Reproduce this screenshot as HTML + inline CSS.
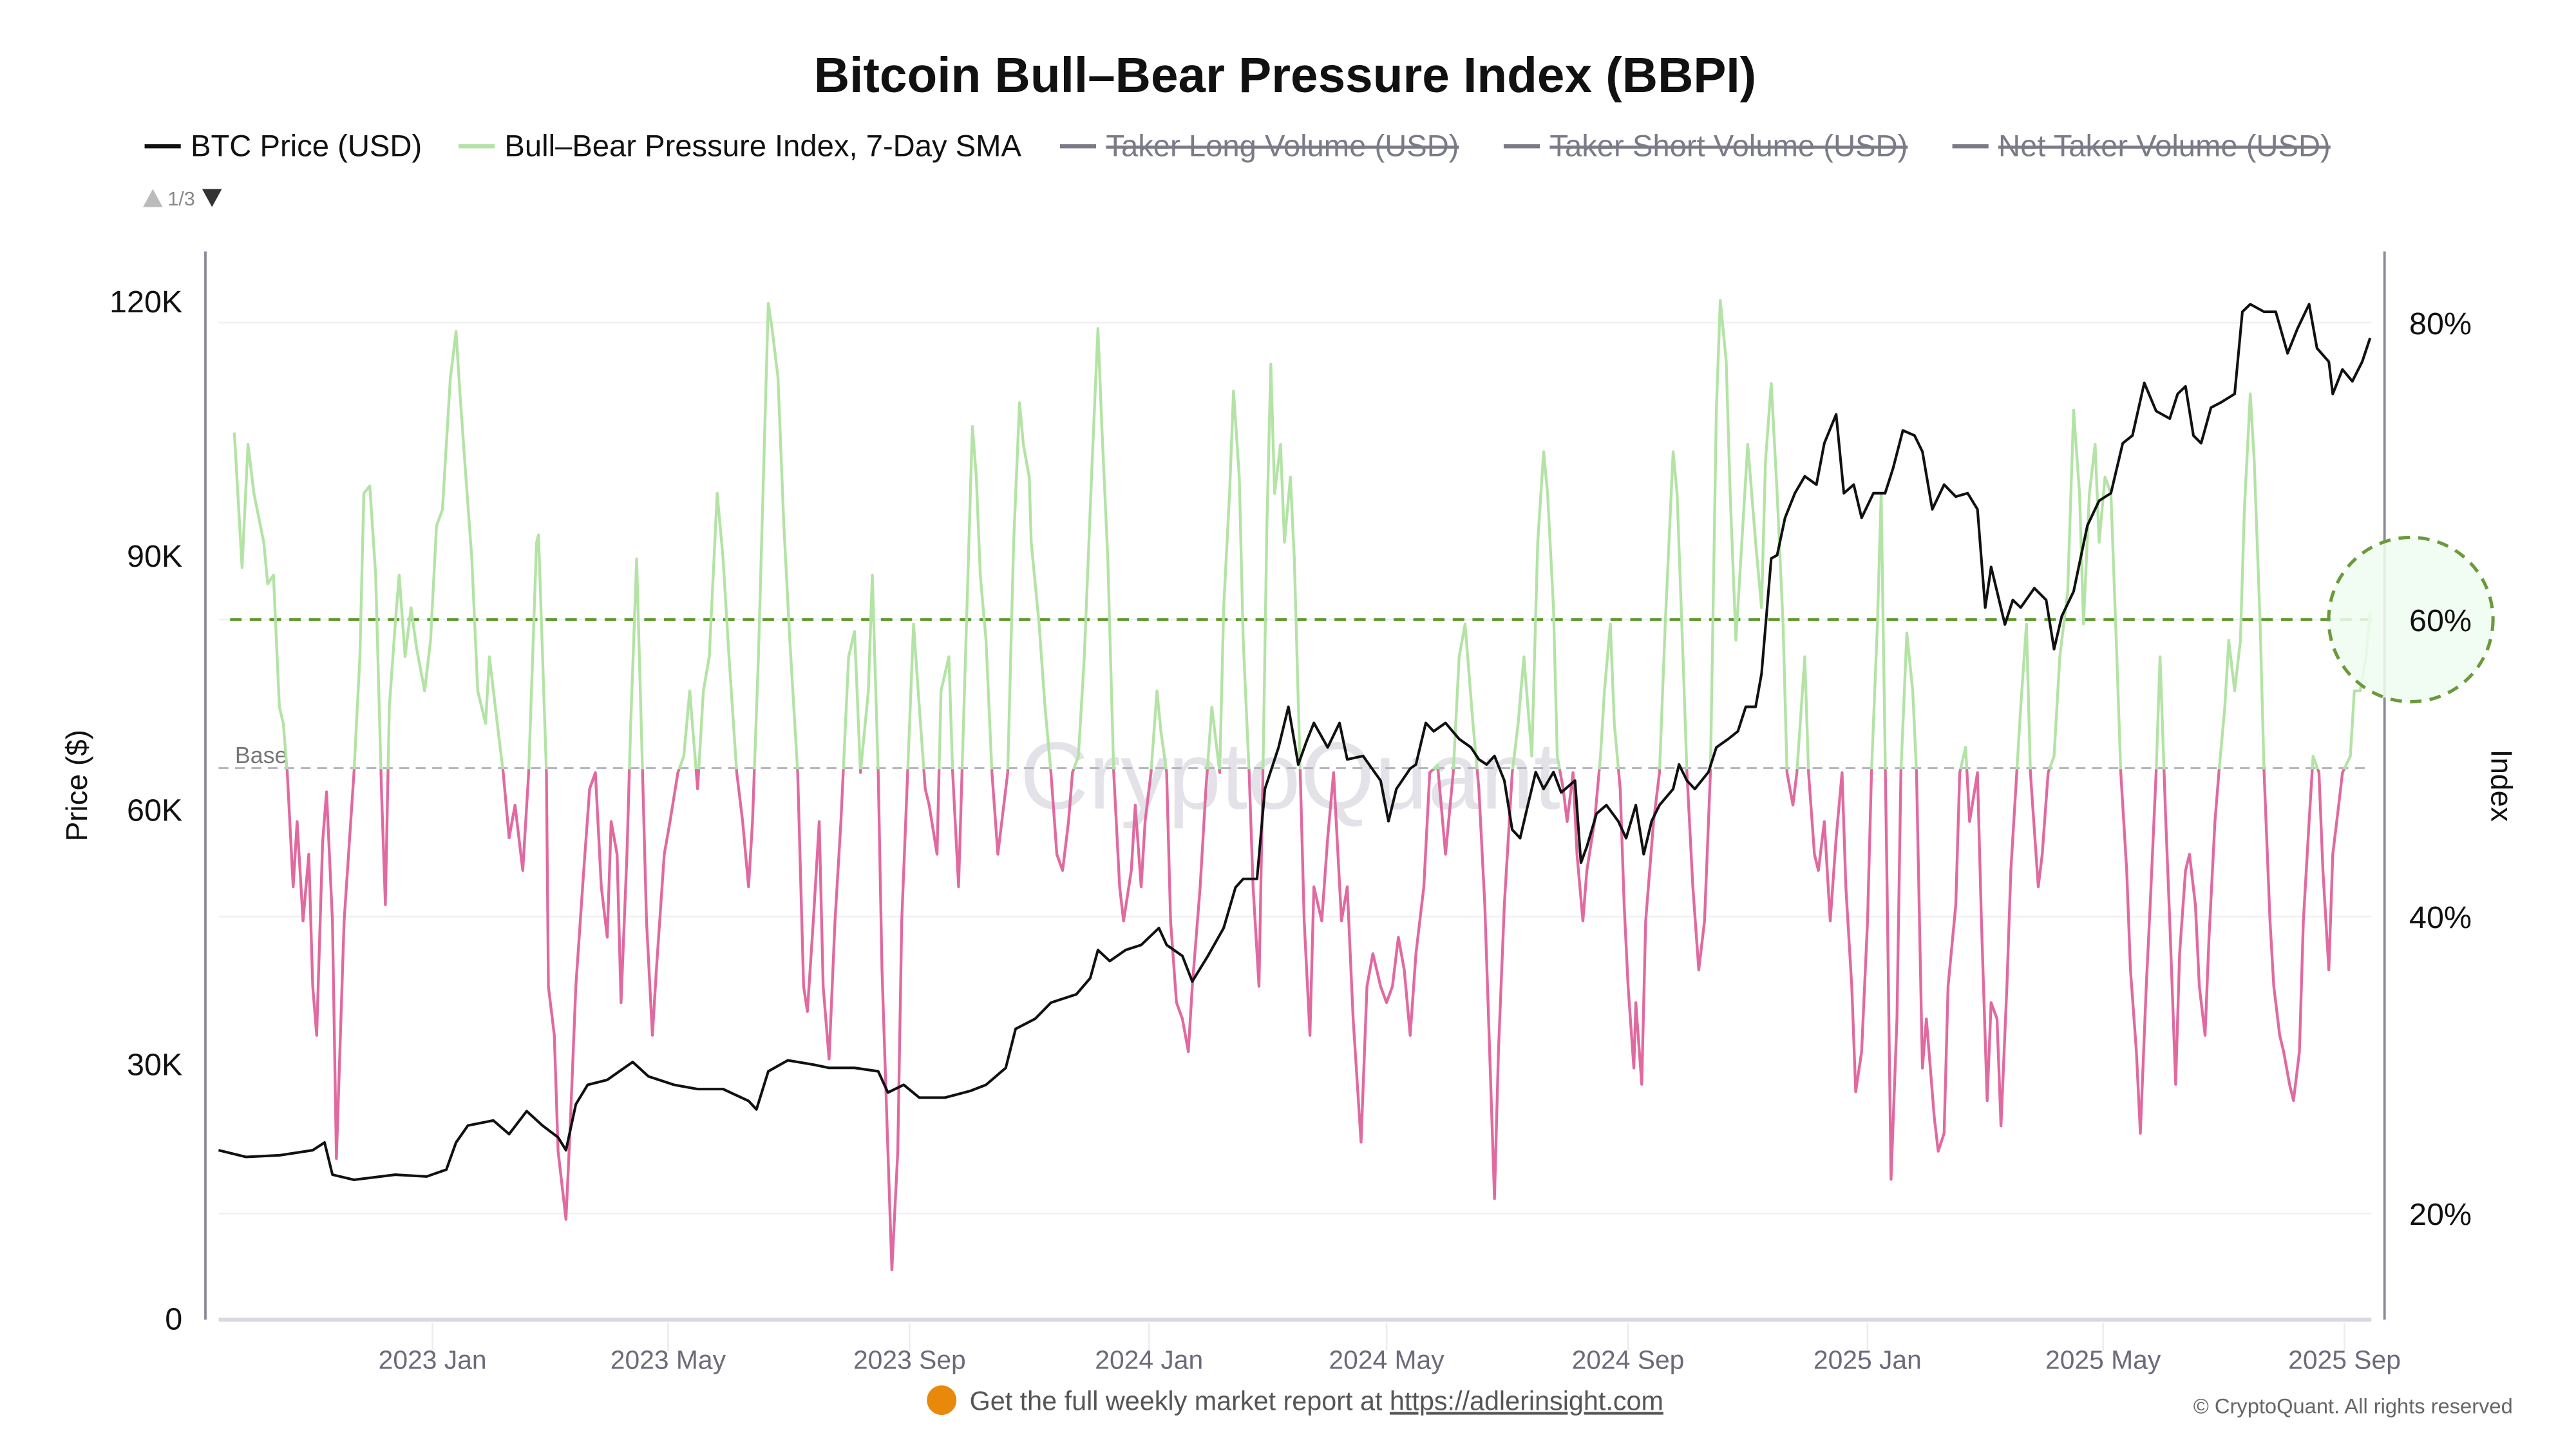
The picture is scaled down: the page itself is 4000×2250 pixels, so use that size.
<!DOCTYPE html>
<html><head><meta charset="utf-8"><style>
html,body{margin:0;padding:0;background:#fff;}
svg{display:block;font-family:"Liberation Sans",sans-serif;}
</style></head><body>
<svg id="chart" width="4000" height="2250" viewBox="0 0 1567.5 881.7" xmlns="http://www.w3.org/2000/svg">
<rect width="1600" height="900" fill="#fff"/>
<text x="782" y="56" text-anchor="middle" font-size="30" font-weight="bold" fill="#111">Bitcoin Bull–Bear Pressure Index (BBPI)</text>
<g font-size="18.5">
 <g><line x1="88" y1="89" x2="110" y2="89" stroke="#111" stroke-width="2.5"/><text x="116" y="95" fill="#111">BTC Price (USD)</text></g>
 <g><line x1="279" y1="89" x2="301" y2="89" stroke="#b3e3a5" stroke-width="2.5"/><text x="307" y="95" fill="#111">Bull–Bear Pressure Index, 7-Day SMA</text></g>
 <g><line x1="645" y1="89" x2="667" y2="89" stroke="#7a7a88" stroke-width="2.5"/><text x="673" y="95" fill="#7a7a88" text-decoration="line-through">Taker Long Volume (USD)</text></g>
 <g><line x1="915" y1="89" x2="937" y2="89" stroke="#7a7a88" stroke-width="2.5"/><text x="943" y="95" fill="#7a7a88" text-decoration="line-through">Taker Short Volume (USD)</text></g>
 <g><line x1="1188" y1="89" x2="1210" y2="89" stroke="#7a7a88" stroke-width="2.5"/><text x="1216" y="95" fill="#7a7a88" text-decoration="line-through">Net Taker Volume (USD)</text></g>
</g>
<g font-size="12"><path d="M87 126 L93 115 L99 126 Z" fill="#bbb"/><text x="102" y="125" fill="#888">1/3</text><path d="M123 115 L135 115 L129 126 Z" fill="#333"/></g>
<text x="785" y="492" text-anchor="middle" font-size="58" fill="#e2e2e8">CryptoQuant</text>
<g id="grid"></g>
<line x1="125" y1="153" x2="125" y2="803" stroke="#8a8a99" stroke-width="1.5"/>
<line x1="1451" y1="153" x2="1451" y2="803" stroke="#8a8a99" stroke-width="1.5"/>
<line x1="133" y1="803" x2="1443" y2="803" stroke="#d8d8e0" stroke-width="2.5"/>
<defs>
 <clipPath id="clipUp"><rect x="0" y="0" width="1560" height="468"/></clipPath>
 <clipPath id="clipDn"><rect x="0" y="468" width="1560" height="420"/></clipPath>
</defs>
<g id="series"></g>
<ellipse cx="1467" cy="377" rx="50" ry="50" fill="#effdf1" fill-opacity="0.85" stroke="#6a9a3a" stroke-width="2" stroke-dasharray="7,5"/>
<g id="axes"></g>
<text transform="translate(53,478) rotate(-90)" text-anchor="middle" font-size="18" fill="#111">Price ($)</text>
<text transform="translate(1516,478) rotate(90)" text-anchor="middle" font-size="18" fill="#111">Index</text>
<g>
 <circle cx="573" cy="852" r="9" fill="#e8890c"/>
 <text x="590" y="858" font-size="16.2" fill="#555">Get the full weekly market report at <tspan text-decoration="underline">https://adlerinsight.com</tspan></text>
 <text x="1529" y="860" text-anchor="end" font-size="12.8" fill="#666">© CryptoQuant. All rights reserved</text>
</g>
</svg>
<script>
const idxDay=[8,12,15,18,23,25,28,31,33,35,38,40,43,46,48,50,53,55,58,60,64,69,72,74,77,80,83,85,87,90,92,95,98,101,105,108,111,114,118,121,123,126,129,132,136,138,141,145,148,151,155,158,162,163,167,168,171,173,177,179,182,186,189,192,195,198,200,203,205,208,210,213,216,218,221,223,227,230,234,237,240,244,247,250,254,257,260,264,267,270,272,275,278,280,282,285,288,291,295,298,300,303,306,308,311,314,317,321,324,327,331,333,336,338,341,343,346,348,351,354,357,360,362,366,368,372,374,377,381,384,386,388,391,394,397,399,402,405,408,410,413,414,418,421,424,427,430,433,435,438,441,445,448,450,453,456,459,461,465,467,470,472,475,478,480,483,485,488,491,494,496,500,503,506,510,512,515,517,520,522,525,527,530,532,534,536,538,541,543,546,548,551,553,556,558,562,565,568,572,575,578,582,585,588,592,595,598,601,604,607,610,614,617,621,625,629,632,635,639,642,645,647,650,652,655,659,662,665,669,672,675,677,680,682,685,687,690,692,695,697,701,704,706,709,711,714,716,718,721,722,725,727,731,734,737,741,743,746,748,751,754,757,760,763,765,768,770,773,776,779,783,786,788,791,794,797,799,802,804,808,810,813,815,818,821,824,827,829,832,834,837,840,842,845,847,850,852,855,857,860,863,865,868,870,874,876,879,881,885,887,890,892,896,898,901,903,906,908,911,913,916,918,921,923,927,929,932,935,938,942,945,948,950,953,956,958,961,964,967,969,972,974,977,979,982,984,987,989,992,994,997,999,1002,1004,1007,1009,1012,1014,1017,1019,1022,1024,1027,1030,1032,1035,1037,1040,1042,1045,1047,1050,1052,1055,1057,1060,1062,1065,1067,1070,1072,1075,1077,1080,1082,1086,1088,1091,1094,1096];
const idxVal=[72.6,63.5,71.8,68.5,65.2,62.4,63,54.1,53,49.7,42,46.4,39.7,44.2,35.3,32,45,48.4,39.7,23.7,39.7,49.7,57.5,68.5,69,63,48.6,40.8,54.1,59.7,63,57.5,60.8,58,55.2,58.6,66.3,67.4,76.2,79.4,75.2,69.6,64.1,55.2,53,57.5,54.1,49.7,45.3,47.5,43.1,49.7,65.2,65.7,49.7,35.3,32,24.2,19.6,25.4,35.3,43.1,48.6,49.7,42,38.6,46.4,44.2,34.2,44.2,53,64.1,49.7,39.7,32,36.4,44.2,46.4,49.7,50.8,55.2,48.6,55.2,57.5,68.5,64.1,57.5,49.7,46.4,42,46.4,57.5,71.8,81.3,79.6,76.3,66.3,58.6,49.7,35.3,33.6,39.7,46.4,35.3,30.4,39.7,46.4,57.5,59.2,49.7,55.2,63,49.7,36.4,24.2,16.2,24.2,39.7,49.7,59.7,54.1,48.6,47.5,44.2,55.2,57.5,49.7,42,59.7,73,69.6,63,58.6,49.7,44.2,46.4,49.7,65.2,74.6,71.8,69.6,65.2,59.7,54.1,49.7,44.2,43.1,46.4,49.7,50.8,57.5,70.7,79.6,72.9,64.1,49.7,42,39.7,43.1,47.5,42,46.4,49.7,55.2,52.5,49.7,39.7,34.2,33.1,30.9,35.3,42,48.6,54.1,49.7,60.8,68.5,75.4,69.6,58.6,49.7,42,35.3,49.7,66.3,77.2,68.5,71.8,65.2,69.6,64.1,49.7,39.7,32,42,39.7,45.3,49.7,39.7,42,33.1,24.8,35.3,37.5,35.3,34.2,35.3,38.6,36.4,32,37.5,42,49.7,50.2,44.2,49.7,57.5,59.7,53,48.6,40.8,33.1,21,30.9,40.8,49.7,53,57.5,50.8,65.2,71.3,68.5,60.8,50.8,48.6,46.4,49.7,44.2,39.7,43.1,46.4,50.8,55.2,59.7,53,48.6,40.8,35.3,29.8,34.2,28.7,39.7,46.4,49.7,59.7,71.3,68.5,57.5,49.7,42,36.4,39.7,49.7,74.1,81.5,77.4,68.5,58.6,65.2,71.8,65.2,60.8,70.7,75.9,68.5,59.7,49.7,47.5,49.7,57.5,49.7,44.2,43.1,46.4,39.7,45.3,49.7,42,35.3,28.2,30.9,39.7,49.7,59.7,68.5,42,22.3,33.1,49.7,59.1,55.2,49.7,29.8,33.1,26.5,24.2,25.4,35.3,40.8,49.7,51.4,46.4,49.7,39.7,27.6,34.2,33.1,25.9,35.3,43.1,49.7,54.1,59.7,49.7,42,44.2,49.7,50.8,57.5,61.9,74.1,68.5,59.7,68.5,71.8,65.2,69.6,68.5,57.5,49.7,43.1,36.4,30.9,25.4,35.3,40.8,49.7,57.5,46.4,39.7,28.7,37.5,43.1,44.2,40.8,35.3,32,38.6,46.4,49.7,54.1,58.6,55.2,58.6,67.4,75.2,70.7,59.7,49.7,39.7,35.3,32,30.9,28.7,27.6,30.9,39.7,46.4,50.8,49.7,43.1,36.4,44.2,47.5,49.7,50.8,55.2,55.2,57.5,60.5];
const priceDay=[0,14,31,48,54,58,69,90,106,116,121,127,140,148,157,165,173,177,182,188,198,211,219,232,244,257,270,274,280,290,303,311,324,336,341,349,357,370,383,391,401,406,416,424,437,444,448,454,462,470,479,483,491,496,504,512,518,522,529,533,540,545,550,554,558,565,571,575,583,592,596,600,607,610,615,619,625,632,638,642,646,650,655,659,663,667,671,675,680,684,691,694,697,702,707,713,717,722,726,730,734,741,744,748,752,759,763,769,774,778,783,786,791,794,798,803,808,814,818,824,828,833,837,843,849,853,858,864,868,873,879,885,891,896,900,903,906,910,914,918,925,931,935,939,945,952,958,964,970,975,981,987,994,998,1002,1006,1010,1015,1020,1027,1031,1035,1042,1048,1054,1059,1065,1069,1075,1077,1082,1087,1092,1096];
const priceVal=[19.8,19.0,19.2,19.8,20.7,16.9,16.3,16.9,16.7,17.5,20.7,22.7,23.3,21.7,24.4,22.7,21.3,19.8,25.2,27.5,28.1,30.2,28.5,27.5,27.0,27.0,25.6,24.6,29.1,30.4,29.9,29.5,29.5,29.1,26.6,27.5,26.0,26.0,26.8,27.5,29.5,34.1,35.3,37.2,38.2,40.1,43.4,42.1,43.4,44.0,46.0,44.0,42.7,39.7,42.7,46.0,50.8,51.8,51.8,62.4,67.3,72.1,65.3,67.9,70.2,67.3,70.2,65.9,66.3,63.4,58.6,62.4,64.8,65.3,70.2,69.2,70.2,68.3,67.3,65.9,65.3,66.3,63.4,57.6,56.6,60.5,64.4,62.4,64.4,62.0,63.4,53.7,55.6,59.5,60.5,58.6,56.6,60.5,54.7,58.6,60.5,62.4,65.3,63.4,62.4,64.4,67.3,68.3,69.2,72.1,72.1,76.0,89.6,90.0,94.4,97.3,99.3,98.3,103.2,106.6,97.3,98.3,94.4,97.3,97.3,100.2,104.7,104.1,102.2,95.4,98.3,96.9,97.3,95.4,83.8,88.6,85.7,81.8,84.7,83.8,86.1,84.7,78.9,82.8,85.7,93.5,96.4,97.3,103.2,104.1,110.3,107.0,106.1,109.0,109.9,104.1,103.2,107.4,108.0,109.0,118.7,119.6,118.7,118.7,113.8,116.7,119.6,114.4,112.8,109.0,111.9,110.5,112.8,115.6];
const idxTicks=[20,40,60,80];
const idxTickLabels=["20%","40%","60%","80%"];
const priceTicks=[0,30,60,90,120];
const priceTickLabels=["0","30K","60K","90K","120K"];
const xTickDays=[109,229,352,474,595,718,840,960,1083];
const xTickLabels=["2023 Jan","2023 May","2023 Sep","2024 Jan","2024 May","2024 Sep","2025 Jan","2025 May","2025 Sep"];
const baseLevel=50, signalLevel=60;

const NS="http://www.w3.org/2000/svg";
function xS(d){return 133+d*1.1945;}
function yP(p){return 802-p/30*154.75;}
function yI(v){return 377-(v-60)*9.035;}
function mk(tag,attrs,parent){const e=document.createElementNS(NS,tag);for(const k in attrs)e.setAttribute(k,attrs[k]);parent.appendChild(e);return e;}
const grid=document.getElementById('grid'),series=document.getElementById('series'),axes=document.getElementById('axes');
idxTicks.forEach((t,i)=>{
 const g=mk('line',{x1:133,x2:1443,y1:yI(t),y2:yI(t),stroke:'#f0f0f3','stroke-width':1},grid);
 
 
 const tx=mk('text',{x:1466,y:yI(t)+7,'font-size':19,fill:'#111'},axes);
 tx.textContent=idxTickLabels[i];
 
 
});
priceTicks.forEach((t,i)=>{
 const tx=mk('text',{x:111,y:yP(t)+7,'font-size':19,fill:'#111','text-anchor':'end'},axes);
 tx.textContent=priceTickLabels[i];
 
 
});
xTickDays.forEach((d,i)=>{
 const l=mk('line',{x1:xS(d),x2:xS(d),y1:805,y2:822,stroke:'#ececf0','stroke-width':1},axes);
 
 
 const tx=mk('text',{x:xS(d),y:833,'font-size':16,fill:'#6b6b7b','text-anchor':'middle'},axes);
 tx.textContent=xTickLabels[i];
 
 
});
const sig=mk('line',{x1:140,x2:1443,y1:yI(signalLevel),y2:yI(signalLevel),stroke:'#5f9a30','stroke-width':1.6,'stroke-dasharray':'7,5'},series);


const base=mk('line',{x1:133,x2:1443,y1:yI(baseLevel),y2:yI(baseLevel),stroke:'#b5b5bd','stroke-width':1.2,'stroke-dasharray':'6,4'},series);


const bt=mk('text',{x:143,y:yI(baseLevel)-3,'font-size':14,fill:'#777'},series);
bt.textContent='Base';


const idxD=idxDay.map((d,i)=>(i?'L':'M')+xS(d).toFixed(1)+' '+yI(idxVal[i]).toFixed(1)).join(' ');
const up=mk('path',{d:idxD,fill:'none',stroke:'#b3e3a5','stroke-width':1.7,'clip-path':'url(#clipUp)','stroke-linejoin':'round'},series);


const dn=mk('path',{d:idxD,fill:'none',stroke:'#e06aa0','stroke-width':1.7,'clip-path':'url(#clipDn)','stroke-linejoin':'round'},series);


const pD=priceDay.map((d,i)=>(i?'L':'M')+xS(d).toFixed(1)+' '+yP(priceVal[i]).toFixed(1)).join(' ');
const pl=mk('path',{d:pD,fill:'none',stroke:'#111','stroke-width':1.6,'stroke-linejoin':'round'},series);


</script>
</body></html>
